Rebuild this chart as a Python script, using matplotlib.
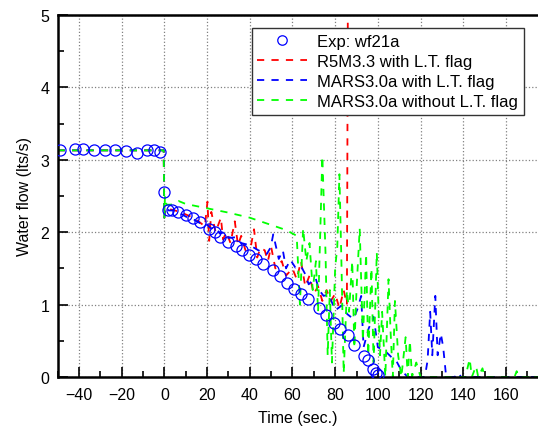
import numpy as np
import matplotlib
matplotlib.use("Agg")
import matplotlib.pyplot as plt
from matplotlib.ticker import MultipleLocator

plt.rcParams['font.family'] = ['Liberation Sans', 'DejaVu Sans']

exp_t = [-49, -42, -38, -33, -28, -23, -18, -13, -8, -5, -2,
         0, 1.5, 3.6, 6.2, 10.1, 13.2, 16.8, 21, 23.5, 26.1, 30, 33.4, 36.2, 39.6,
         43, 46.3, 51, 54.4, 57.5, 60.6, 64, 67.3, 72.3, 75.7, 79.3, 82.1, 85.8,
         88.9, 93.6, 95.3, 97.5, 99, 100.3]
exp_w = [3.14, 3.15, 3.15, 3.14, 3.14, 3.14, 3.12, 3.10, 3.13, 3.13, 3.11,
         2.56, 2.30, 2.30, 2.28, 2.24, 2.20, 2.14, 2.04, 2.00, 1.94, 1.87, 1.81, 1.76, 1.69,
         1.63, 1.56, 1.48, 1.40, 1.30, 1.22, 1.15, 1.08, 0.95, 0.85, 0.74, 0.66, 0.58,
         0.44, 0.29, 0.23, 0.11, 0.06, 0.03]

# R5M3.3 with L.T. flag
r5_t = [-50, -0.3, 0, 0.5, 2, 5, 8, 12, 16, 19, 20.2, 21, 22, 24, 26.5, 27.5, 29, 31,
        33, 34.5, 36, 38, 40.5, 42, 43.5, 45, 47, 48.5, 50, 52, 55, 57, 60, 62, 64,
        66, 68, 70, 72, 74, 76, 78, 80, 82, 84, 85.5, 86]
r5_w = [3.13, 3.13, 2.2, 2.33, 2.32, 2.3, 2.27, 2.22, 2.15, 2.08, 2.42, 1.88, 2.28, 2.0,
        2.2, 1.9, 2.0, 1.85, 2.15, 1.82, 1.95, 1.75, 1.8, 2.04, 1.65, 1.78, 1.75, 1.6,
        1.8, 1.5, 1.6, 1.4, 1.5, 1.35, 1.6, 1.25, 1.4, 1.15, 1.25, 1.05, 1.2, 1.05,
        1.15, 0.95, 1.2, 1.0, 5.6]

# MARS3.0a with L.T. flag
m1_t = [-50, -0.3, 0, 0.5, 2, 5, 8, 11, 14, 17, 20, 22, 24, 26, 28, 30, 33.4, 36, 40,
        44, 48, 49.8, 51, 53.6, 55.5, 57, 59, 61.4, 64, 66, 67.6, 70.8, 72.5, 74.6,
        77, 80, 83.2, 85.6, 88.6, 90.6, 92.2, 93.3, 95.7, 98, 100, 103, 106.5, 108.5,
        111, 114, 122, 123.3, 124.5, 125.5, 126.9, 128, 129.5, 130.6, 132, 136, 137.6,
        139, 175]
m1_w = [3.13, 3.13, 2.2, 2.35, 2.3, 2.3, 2.25, 2.2, 2.17, 2.12, 2.1, 2.05, 2.07, 1.98,
        2.0, 1.92, 1.93, 1.85, 1.82, 1.75, 1.7, 1.79, 1.97, 1.63, 1.75, 1.5, 1.62,
        1.51, 1.53, 1.42, 1.28, 1.37, 1.2, 1.12, 1.14, 0.92, 0.99, 0.87, 0.8, 0.95,
        1.12, 0.41, 0.67, 0.83, 0.41, 0.37, 0.27, 0.23, 0.09, 0.0, 0.0, 0.23, 0.9,
        0.3, 1.12, 0.3, 0.6, 0.41, 0.0, 0.0, 0.06, 0.0, 0.0]

# MARS3.0a without L.T. flag
m2_t = [-50, -0.3, 0, 0.3, 1, 3, 6.7, 10, 20, 30, 40, 50, 57, 62, 63.5, 65, 66.5, 68,
        69.5, 71, 72, 74, 75.5, 76.5, 77.5, 78.5, 80, 81, 82, 83, 84, 85.5, 86.5,
        88, 89, 90, 91.5, 93, 94.5, 95.5, 97, 98, 99.5, 101, 102, 103.5, 105, 106,
        107, 108, 109.5, 111, 113, 114, 115, 116, 118, 120, 141, 143, 144, 146, 147,
        149, 150, 164, 165, 166, 172, 172.5, 173.5, 175]
m2_w = [3.13, 3.13, 2.2, 2.5, 2.38, 2.38, 2.43, 2.39, 2.33, 2.27, 2.2, 2.1, 2.03,
        1.95, 1.0, 2.05, 1.6, 1.85, 1.2, 1.6, 0.9, 3.05, 1.7, 0.3, 1.2, 0.2, 1.5,
        1.8, 2.8, 1.5, 0.05, 1.2, 0.9, 1.6, 0.4, 1.2, 2.05, 0.5, 1.7, 0.3, 1.5, 0.2,
        1.72, 0.3, 0.9, 0.0, 1.35, 0.6, 0.0, 1.05, 0.3, 0.0, 0.55, 0.0, 0.5, 0.0,
        0.2, 0.0, 0.0, 0.25, 0.0, 0.15, 0.0, 0.12, 0.0, 0.0, 0.08, 0.0, 0.0, 0.03,
        0.0, 0.0]

fig = plt.figure(figsize=(5.38, 4.31), dpi=100)
ax = fig.add_axes([0.107, 0.123, 0.893, 0.840])

dash = (0, (4, 4))
ax.plot(exp_t, exp_w, 'o', mfc='none', mec='blue', ms=8, mew=0.9,
        label='Exp: wf21a', zorder=5)
ax.plot(r5_t, r5_w, color='red', ls=dash, lw=1.3, label='R5M3.3 with L.T. flag')
ax.plot(m1_t, m1_w, color='blue', ls=dash, lw=1.3, label='MARS3.0a with L.T. flag')
ax.plot(m2_t, m2_w, color='#00ff00', ls=dash, lw=1.3,
        label='MARS3.0a without L.T. flag')

ax.set_xlim(-50, 175)
ax.set_ylim(0, 5)
ax.xaxis.set_major_locator(MultipleLocator(20))
ax.xaxis.set_minor_locator(MultipleLocator(10))
ax.yaxis.set_major_locator(MultipleLocator(1))
ax.yaxis.set_minor_locator(MultipleLocator(0.5))
ax.tick_params(which='major', direction='in', length=7, width=1.2, labelsize=11.5)
ax.tick_params(which='minor', direction='in', length=4, width=1.2)
ax.tick_params(axis='x', pad=7)
ax.tick_params(axis='y', pad=6)
ax.grid(True, which='major', ls=':', color='gray', lw=0.9)

for s in ['left', 'bottom', 'top']:
    ax.spines[s].set_linewidth(1.8)
ax.spines['right'].set_visible(False)

ax.set_xlabel('Time (sec.)', fontsize=11.5, labelpad=6)
ax.set_ylabel('Water flow (lts/s)', fontsize=11.5, labelpad=6)

leg = ax.legend(loc='upper right', bbox_to_anchor=(0.971, 0.964), borderaxespad=0,
                fontsize=12, fancybox=False, framealpha=1, edgecolor='#333333',
                handlelength=3.0, labelspacing=0.3, borderpad=0.35, handletextpad=0.6,
                markerscale=0.85)
leg.get_frame().set_linewidth(1.0)

fig.savefig('out.png', dpi=100)
